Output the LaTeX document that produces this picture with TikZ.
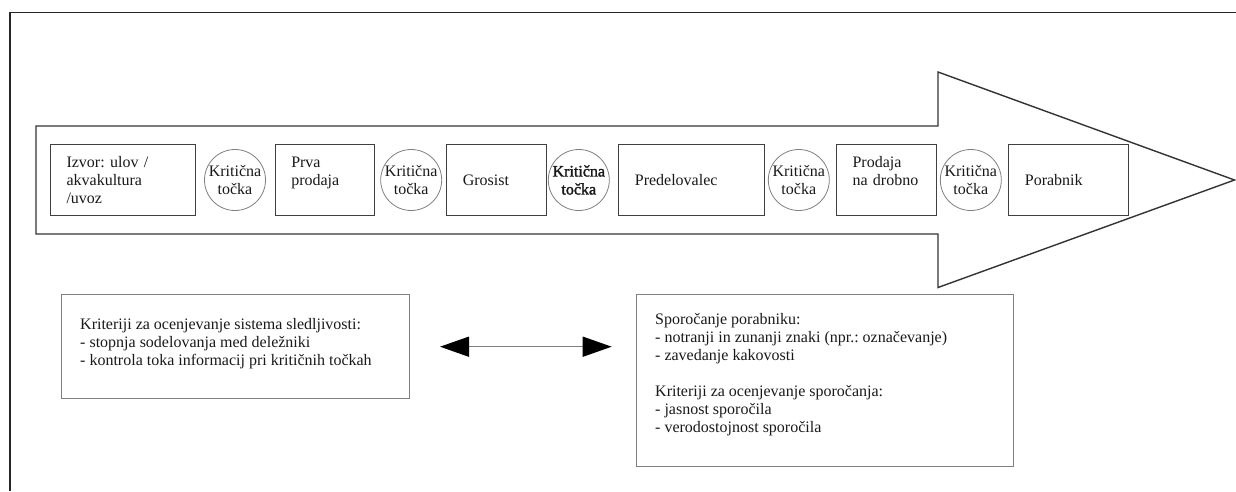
\documentclass[tikz,border=0pt]{standalone}
\usepackage{fontspec}
\setmainfont{Liberation Serif}
\newfontfamily\critboldfont[FakeBold=1.8]{Liberation Serif}
\usetikzlibrary{arrows.meta}
\begin{document}
\frenchspacing
\begin{tikzpicture}[x=1pt,y=-1pt,
  every node/.style={font=\fontsize{16}{18}\selectfont\frenchspacing, text=black!90},
  frameline/.style={line width=1.1pt, draw=black!85},
  bigarrow/.style={draw=black!80, line width=1.4pt, line join=miter},
  chainbox/.style={draw=black!75, line width=1.1pt, rectangle, inner xsep=16pt, inner ysep=0pt,
                   align=left, anchor=north west, minimum height=71pt},
  crit/.style={draw=black!50, line width=0.8pt, circle, minimum size=61pt, inner sep=0pt, align=center},
  infobox/.style={draw=black!50, line width=1pt, rectangle, anchor=north west, inner sep=0pt},
  infotext/.style={anchor=north west, align=left, inner sep=0pt},
  linkline/.style={draw=black!50, line width=1.5pt,
     {Triangle[length=29pt,width=20pt,black]}-{Triangle[length=29pt,width=20pt,black]}},
]
\useasboundingbox (0,0) rectangle (1236,491);

% page frame (top and left edge)
\coordinate (ftl) at (10,12.3);
\coordinate (ftr) at (1236,12.3);
\coordinate (fbl) at (10,491);
\draw[frameline] (fbl) -- (ftl) -- (ftr);

% big arrow
\coordinate (a1) at (36,126);
\coordinate (a2) at (938,126);
\coordinate (a3) at (938,72);
\coordinate (a4) at (1234.5,180);
\coordinate (a5) at (938,287.5);
\coordinate (a6) at (938,234);
\coordinate (a7) at (36,234);
\draw[bigarrow, fill=white] (a1) -- (a2) -- (a3) -- (a4) -- (a5) -- (a6) -- (a7) -- cycle;

% chain boxes
\node[chainbox, text width=113.3pt] (izvor) at (50,144) {Izvor: ulov /\\akvakultura\\/uvoz};
\node[chainbox, text width=67.3pt] (prva) at (274.7,144) {Prva\\prodaja\\\mbox{}};
\node[chainbox, text width=67.4pt] (grosist) at (446.3,144) {Grosist};
\node[chainbox, text width=113.7pt] (predel) at (618.3,144) {Predelovalec};
\node[chainbox, text width=68pt] (drobno) at (836,144) {Prodaja\\na drobno\\\mbox{}};
\node[chainbox, text width=87.4pt] (porabnik) at (1008.3,144) {Porabnik};

% critical points
\node[crit] (k1) at (235,180) {Kritična\\točka};
\node[crit] (k2) at (411.2,180) {Kritična\\točka};
\node[crit, font=\fontsize{16}{18}\critboldfont] (k3) at (578.8,180) {Kritična\\točka};
\node[crit] (k4) at (798.8,180) {Kritična\\točka};
\node[crit] (k5) at (970.8,180) {Kritična\\točka};

% lower boxes
\node[infobox, minimum width=348.6pt, minimum height=104pt] (critbox) at (60.7,294.3) {};
\node[infotext] (crittext) at (80,317.7) {Kriteriji za ocenjevanje sistema sledljivosti:\\- stopnja sodelovanja med deležniki\\- kontrola toka informacij pri kritičnih točkah};

\node[infobox, minimum width=376.7pt, minimum height=171.7pt] (sporbox) at (636,294.3) {};
\node[infotext] (sportext) at (655,312.7) {Sporočanje porabniku:\\- notranji in zunanji znaki (npr.: označevanje)\\- zavedanje kakovosti\\[18pt]Kriteriji za ocenjevanje sporočanja:\\- jasnost sporočila\\- verodostojnost sporočila};

% double arrow
\coordinate (larr) at (440,346.7);
\coordinate (rarr) at (611.7,346.7);
\draw[linkline] (larr) -- (rarr);
\end{tikzpicture}
\end{document}
